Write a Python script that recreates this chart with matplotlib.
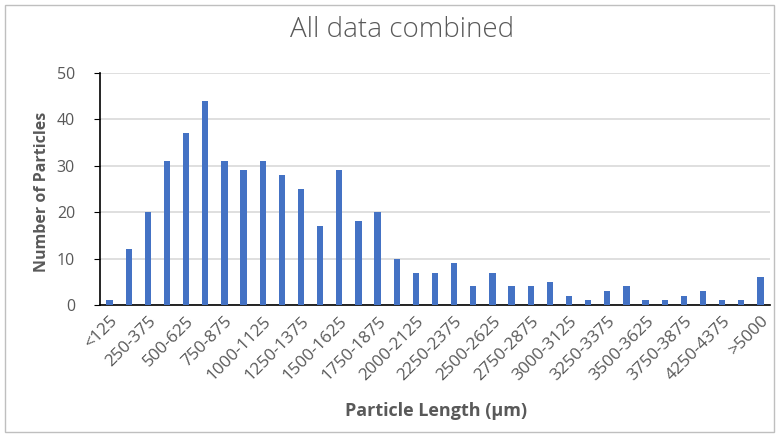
import numpy as np
import matplotlib.pyplot as plt
from matplotlib.patches import Rectangle

# Histogram bins (some labels hidden by Excel's every-other labelling)
bins = ['<125', '125-250', '250-375', '375-500', '500-625', '625-750', '750-875',
        '875-1000', '1000-1125', '1125-1250', '1250-1375', '1375-1500', '1500-1625',
        '1625-1750', '1750-1875', '1875-2000', '2000-2125', '2125-2250', '2250-2375',
        '2375-2500', '2500-2625', '2625-2750', '2750-2875', '2875-3000', '3000-3125',
        '3125-3250', '3250-3375', '3375-3500', '3500-3625', '3625-3750', '3750-3875',
        '4000-4125', '4250-4375', '4625-4750', '>5000']
counts = [1, 12, 20, 31, 37, 44, 31, 29, 31, 28, 25, 17, 29, 18, 20, 10, 7, 7, 9,
          4, 7, 4, 4, 5, 2, 1, 3, 4, 1, 1, 2, 3, 1, 1, 6]
yticks = [0, 10, 20, 30, 40, 50]

gray = '#595959'
fig = plt.figure(figsize=(7.79, 4.37), dpi=100)
ax = fig.add_axes([100 / 779, 1 - 305 / 437, 670 / 779, 232 / 437])

x = np.arange(len(bins))
ax.bar(x, counts, width=0.33, color='#4472C4', zorder=3)

ax.set_xlim(-0.5, len(bins) - 0.5)
ax.set_ylim(0, 50)
ax.set_yticks(yticks)
ax.set_yticklabels([str(v) for v in yticks], fontsize=11.5, color=gray,
                   family='Open Sans')
ax.grid(axis='y', color='#d9d9d9', linewidth=1.2, zorder=0)

ax.set_xticks(x[::2])
ax.set_xticklabels(bins[::2], rotation=45, ha='right', rotation_mode='anchor',
                   fontsize=12.3, color=gray, family='Open Sans')
ax.tick_params(axis='x', length=0, pad=6)
ax.tick_params(axis='y', length=4, color='black', pad=14)

for s in ['top', 'right']:
    ax.spines[s].set_visible(False)
ax.spines['left'].set_color('black')
ax.spines['bottom'].set_color('black')
ax.spines['left'].set_linewidth(1.2)
ax.spines['bottom'].set_linewidth(1.2)

fig.text(402 / 779, 1 - 30 / 437, 'All data combined', ha='center', va='center',
         fontsize=20, color=gray, family='Open Sans', fontweight='light')
fig.text(42 / 779, 1 - 192 / 437, 'Number of Particles', rotation=90, ha='center',
         va='center', fontsize=11.5, fontweight='bold', color=gray, family='Open Sans')
fig.text(436 / 779, 1 - 411 / 437, 'Particle Length (µm)', ha='center', va='center',
         fontsize=13, fontweight='bold', color=gray, family='Open Sans')

fig.patches.append(Rectangle((5 / 779, 5 / 437), 769 / 779, 427 / 437,
                             transform=fig.transFigure, fill=False,
                             edgecolor='#bfbfbf', linewidth=1))

fig.savefig('out.png', dpi=100)
